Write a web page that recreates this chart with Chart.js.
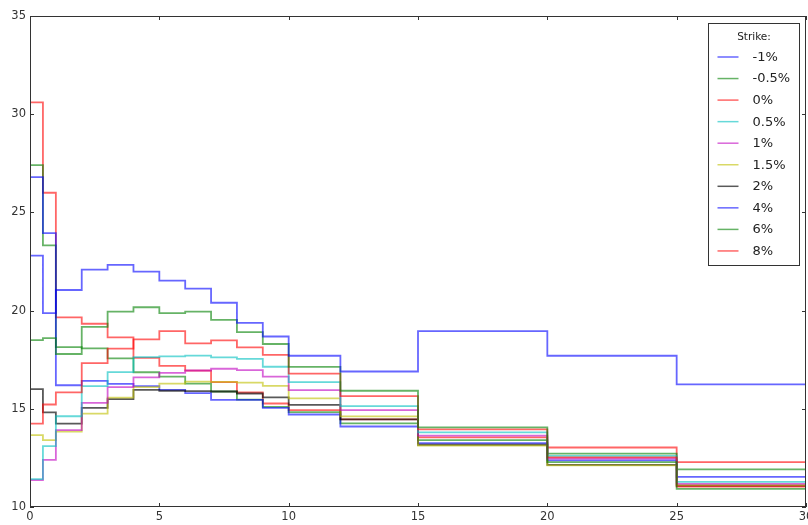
<!DOCTYPE html>
<html>
<head>
<meta charset="utf-8">
<script src="https://cdn.jsdelivr.net/npm/chart.js@4.4.0/dist/chart.umd.min.js"></script>
<style>
html, body { margin: 0; padding: 0; background: #fff; }
#wrap { width: 808px; height: 525px; }
</style>
</head>
<body>
<div id="wrap"><canvas id="strikeChart" width="808" height="525"></canvas></div>
<script>
// maturity breaks (years) - each value holds until the next break
var maturities = [0, 0.5, 1, 2, 3, 4, 5, 6, 7, 8, 9, 10, 12, 15, 20, 25, 30];
var strikes = ["-1%", "-0.5%", "0%", "0.5%", "1%", "1.5%", "2%", "4%", "6%", "8%"];
var xTicks = [0, 5, 10, 15, 20, 25, 30];
var yTicks = [10, 15, 20, 25, 30, 35];

// VOLS PER STRIKE //
var volM1   = [22.8, 19.87, 21.05, 22.09, 22.33, 21.98, 21.53, 21.12, 20.4, 19.38, 18.68, 17.7, 16.9, 18.95, 17.7, 16.24];
var volM05  = [18.5, 18.6, 17.79, 19.17, 19.95, 20.17, 19.87, 19.95, 19.53, 18.9, 18.3, 17.13, 15.92, 14.05, 12.28, 10.92];
var vol0    = [14.25, 15.22, 15.84, 17.33, 18.06, 18.53, 18.95, 18.33, 18.48, 18.13, 17.75, 16.79, 15.65, 13.95, 12.53, 11.04];
var vol05   = [11.42, 13.1, 14.62, 16.15, 16.87, 17.63, 17.67, 17.71, 17.62, 17.54, 17.14, 16.36, 15.14, 13.8, 12.6, 11.28];
var vol1    = [11.37, 12.4, 13.91, 15.3, 16.1, 16.6, 16.83, 16.95, 17.04, 16.97, 16.64, 15.95, 14.93, 13.63, 12.47, 11.18];
var vol15   = [13.66, 13.4, 13.84, 14.75, 15.57, 16.1, 16.28, 16.38, 16.37, 16.33, 16.17, 15.53, 14.61, 13.12, 12.12, 11.12];
var vol2    = [16.0, 14.82, 14.25, 15.05, 15.49, 15.96, 15.92, 15.9, 15.88, 15.78, 15.58, 15.2, 14.46, 13.17, 12.14, 11.08];
var vol4    = [26.8, 23.94, 16.2, 16.42, 16.27, 16.15, 15.96, 15.8, 15.45, 15.45, 15.05, 14.71, 14.1, 13.25, 12.37, 11.53];
var vol6    = [27.41, 23.32, 18.14, 18.08, 17.57, 16.86, 16.64, 16.28, 15.88, 15.47, 15.1, 14.83, 14.26, 13.4, 12.72, 11.92];
var vol8    = [30.6, 26.0, 19.65, 19.33, 18.64, 17.59, 17.19, 16.94, 16.36, 15.83, 15.27, 14.93, 14.46, 13.55, 13.03, 12.28];

var allVols = [volM1, volM05, vol0, vol05, vol1, vol15, vol2, vol4, vol6, vol8];

var lineColors = ['rgba(0,0,255,0.6)', 'rgba(0,128,0,0.6)', 'rgba(255,0,0,0.6)', 'rgba(0,191,191,0.6)',
                  'rgba(191,0,191,0.6)', 'rgba(191,191,0,0.6)', 'rgba(0,0,0,0.65)',
                  'rgba(0,0,255,0.6)', 'rgba(0,128,0,0.6)', 'rgba(255,0,0,0.6)'];

// step points: last value repeated at the final break
stepPoints = (vals) => {
    var pts = [];
    for (var i = 0; i < maturities.length; i++) {
        pts.push({x: maturities[i], y: vals[Math.min(i, vals.length - 1)]});
    }
    return pts;
}

var dataSet = [];
for (var i = 0; i < strikes.length; i++) {
    dataSet.push({
        label: strikes[i],
        data: stepPoints(allVols[i]),
        stepped: 'before',
        borderColor: lineColors[i],
        borderWidth: 1.8,
        pointRadius: 0,
        fill: false
    });
}

// FRAME, INWARD TICKS AND LEGEND BOX //
var framePlugin = {
    id: 'framePlugin',
    afterDatasetsDraw: function(chart) {
        var ctx = chart.ctx, a = chart.chartArea;
        var xs = chart.scales.x, ys = chart.scales.y;
        ctx.save();
        ctx.strokeStyle = '#333';
        ctx.lineWidth = 1;
        ctx.beginPath();
        xs.ticks.forEach(function(t) {
            var px = Math.round(xs.getPixelForValue(t.value)) + 0.5;
            ctx.moveTo(px, a.bottom); ctx.lineTo(px, a.bottom - 4);
            ctx.moveTo(px, a.top); ctx.lineTo(px, a.top + 4);
        });
        ys.ticks.forEach(function(t) {
            var py = Math.round(ys.getPixelForValue(t.value)) + 0.5;
            ctx.moveTo(a.left, py); ctx.lineTo(a.left + 4, py);
            ctx.moveTo(a.right, py); ctx.lineTo(a.right - 4, py);
        });
        ctx.stroke();
        ctx.strokeRect(a.left + 0.5, a.top + 0.5, a.right - a.left - 1, a.bottom - a.top - 1);

        // legend
        var w = 91, h = 242;
        var bx = Math.round(a.right - 7 - w) + 0.5, by = Math.round(a.top + 7) + 0.5;
        ctx.fillStyle = '#fff';
        ctx.fillRect(bx, by, w, h);
        ctx.strokeStyle = '#333';
        ctx.strokeRect(bx, by, w, h);
        ctx.fillStyle = '#222';
        ctx.textBaseline = 'middle';
        ctx.textAlign = 'center';
        ctx.font = '10.5px "DejaVu Sans"';
        ctx.fillText('Strike:', bx + w / 2, by + 13.5);
        ctx.textAlign = 'left';
        ctx.font = '13px "DejaVu Sans"';
        chart.data.datasets.forEach(function(ds, i) {
            var ey = by + 33.5 + i * 21.55;
            ctx.strokeStyle = ds.borderColor;
            ctx.lineWidth = 1.5;
            ctx.beginPath();
            ctx.moveTo(bx + 9, ey); ctx.lineTo(bx + 30, ey);
            ctx.stroke();
            ctx.fillText(ds.label, bx + 44, ey + 0.5);
        });
        ctx.restore();
    }
};

// CREATE CHART //
var container = document.getElementById("strikeChart");
var volChart = new Chart(container, {
    type: 'line',
    data: { datasets: dataSet },
    options: {
        responsive: false,
        animation: false,
        events: [],
        layout: { padding: { top: 16, right: 2, left: 0, bottom: 0 } },
        plugins: { legend: { display: false }, tooltip: { enabled: false } },
        scales: {
            x: {
                type: 'linear',
                min: 0, max: 30,
                afterBuildTicks: function(s) { s.ticks = xTicks.map(function(v) { return {value: v}; }); },
                afterFit: function(s) { s.height = 18; s.paddingLeft = 0; s.paddingRight = 0; },
                grid: { display: false, drawTicks: false },
                border: { display: false },
                ticks: { padding: 3, color: '#333', font: { family: 'DejaVu Sans', size: 11.5 }, maxRotation: 0 }
            },
            y: {
                min: 10, max: 35,
                afterBuildTicks: function(s) { s.ticks = yTicks.map(function(v) { return {value: v}; }); },
                afterFit: function(s) { s.width = 30; s.paddingTop = 0; s.paddingBottom = 0; },
                grid: { display: false, drawTicks: false },
                border: { display: false },
                ticks: { padding: 4, color: '#333', font: { family: 'DejaVu Sans', size: 11.5 } }
            }
        }
    },
    plugins: [framePlugin]
});
</script>
</body>
</html>
